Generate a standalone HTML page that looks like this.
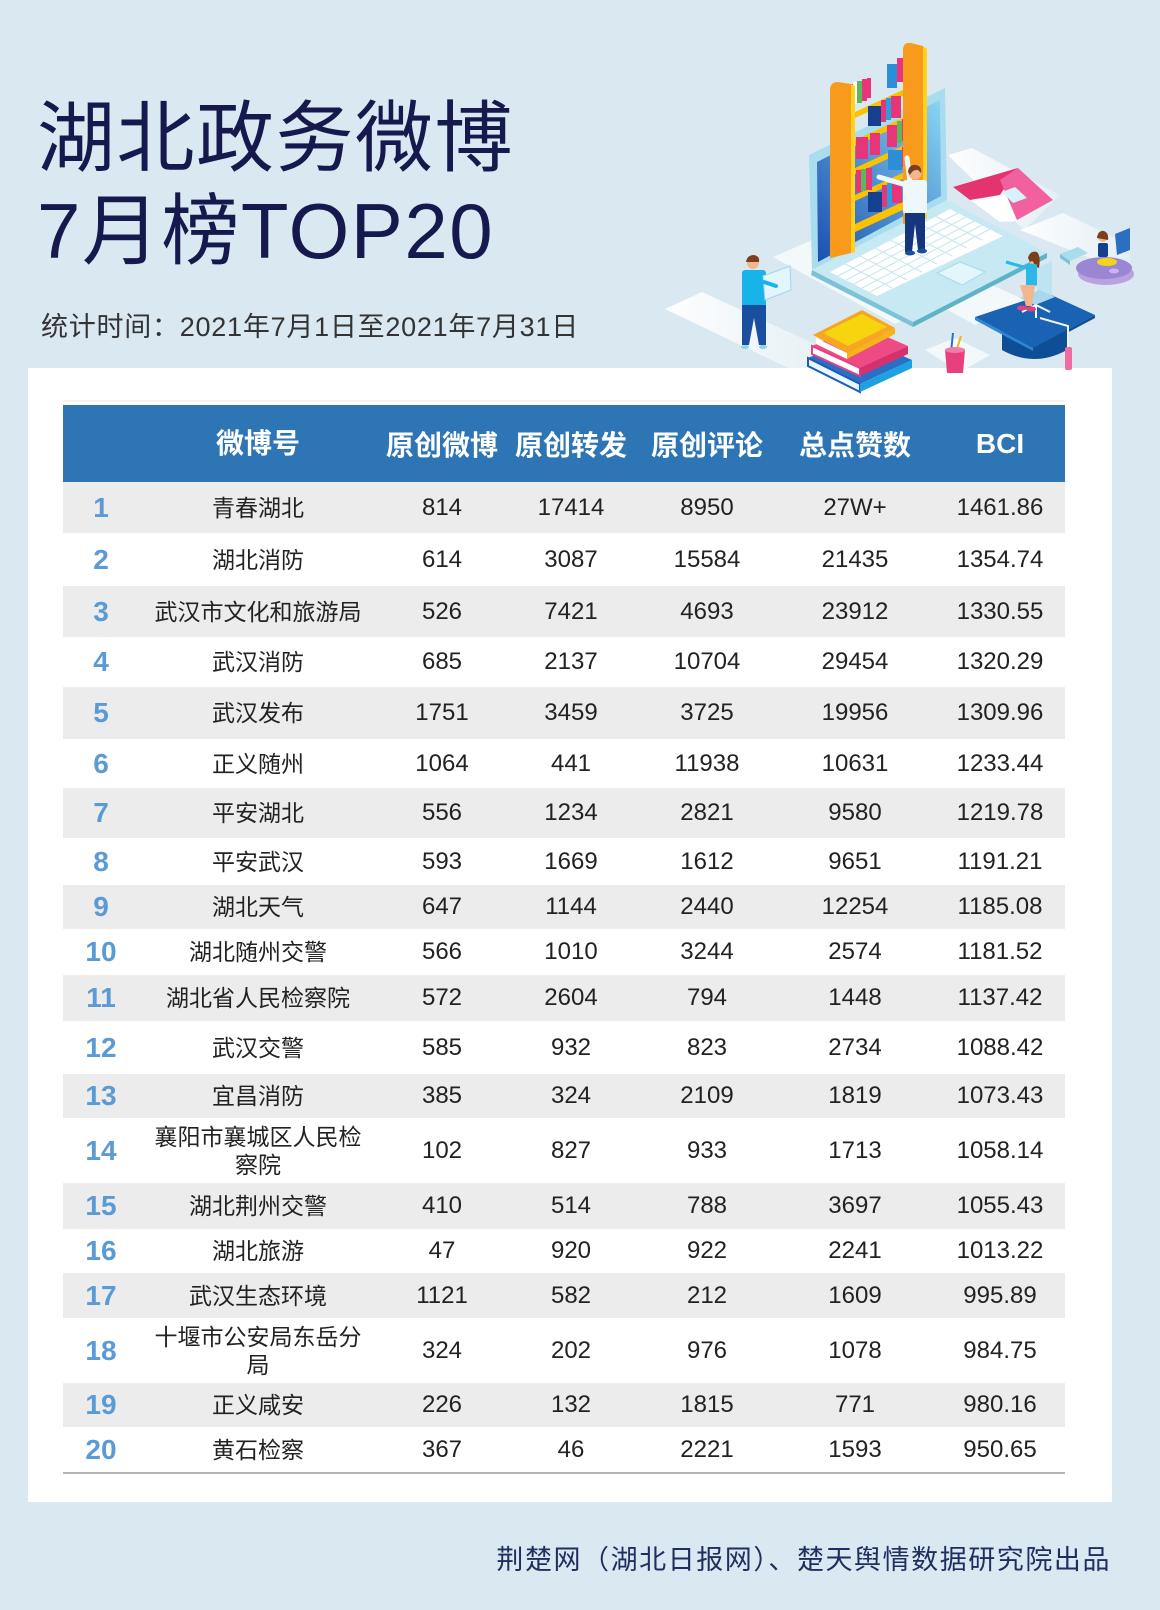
<!DOCTYPE html>
<html><head><meta charset="utf-8">
<style>
*{margin:0;padding:0;box-sizing:border-box}
html,body{width:1160px;height:1610px;overflow:hidden}
body{background:#dae9f1;position:relative;font-family:"Liberation Sans","Noto Sans CJK SC",sans-serif}
.t{position:absolute;white-space:nowrap}
#title1,#title2{left:37px;font-size:78px;line-height:78px;color:#15194d;letter-spacing:1.5px}
#title1{top:99px}
#title2{top:192px}
#sub{left:41px;top:309px;font-size:27px;line-height:36px;color:#333;letter-spacing:0.75px}
#foot{right:49px;top:1542px;font-size:27px;line-height:36px;color:#1f2d5f;letter-spacing:1.55px}
#card{position:absolute;left:28px;top:368px;width:1084px;height:1134px;background:#fff}
.row{position:absolute;left:63px;width:1002px}
.row.g{background:#ececec}
.row.h{background:#2e75b6;color:#fff;font-weight:bold;font-size:28px}
.c{position:absolute;top:0;height:100%;display:flex;align-items:center;justify-content:center;text-align:center;white-space:nowrap}
.rk{left:0;width:76px;color:#5b9bd5;font-weight:bold;font-size:28px}
.nm{left:76px;width:238px;font-size:23px;color:#222;line-height:28px}
.n{font-size:24px;color:#222}
.n1{left:313px;width:132px}
.n2{left:442px;width:132px}
.n3{left:574px;width:140px}
.n4{left:714px;width:156px}
.n5{left:869px;width:136px}
.h .c{color:#fff;font-size:28px}
#ill{position:absolute;left:0;top:0}
</style></head><body>
<div class="t" id="title1">湖北政务微博</div>
<div class="t" id="title2">7月榜TOP20</div>
<div class="t" id="sub">统计时间：2021年7月1日至2021年7月31日</div>

<div id="card"></div>
<div style="position:absolute;left:63px;top:400px;width:1002px;height:2px;background:#f1f3f4"></div>

<div class="row h" style="top:405px;height:77px">
<div class="c nm" style="color:#fff;font-size:28px">微博号</div>
<div class="c n1">原创微博</div><div class="c n2">原创转发</div><div class="c n3">原创评论</div><div class="c n4">总点赞数</div><div class="c n5">BCI</div>
</div>

<div class="row g" style="top:482px;height:51px"><div class="c rk">1</div><div class="c nm">青春湖北</div><div class="c n n1">814</div><div class="c n n2">17414</div><div class="c n n3">8950</div><div class="c n n4">27W+</div><div class="c n n5">1461.86</div></div>
<div class="row" style="top:533px;height:53px"><div class="c rk">2</div><div class="c nm">湖北消防</div><div class="c n n1">614</div><div class="c n n2">3087</div><div class="c n n3">15584</div><div class="c n n4">21435</div><div class="c n n5">1354.74</div></div>
<div class="row g" style="top:586px;height:51px"><div class="c rk">3</div><div class="c nm">武汉市文化和旅游局</div><div class="c n n1">526</div><div class="c n n2">7421</div><div class="c n n3">4693</div><div class="c n n4">23912</div><div class="c n n5">1330.55</div></div>
<div class="row" style="top:637px;height:50px"><div class="c rk">4</div><div class="c nm">武汉消防</div><div class="c n n1">685</div><div class="c n n2">2137</div><div class="c n n3">10704</div><div class="c n n4">29454</div><div class="c n n5">1320.29</div></div>
<div class="row g" style="top:687px;height:52px"><div class="c rk">5</div><div class="c nm">武汉发布</div><div class="c n n1">1751</div><div class="c n n2">3459</div><div class="c n n3">3725</div><div class="c n n4">19956</div><div class="c n n5">1309.96</div></div>
<div class="row" style="top:739px;height:49px"><div class="c rk">6</div><div class="c nm">正义随州</div><div class="c n n1">1064</div><div class="c n n2">441</div><div class="c n n3">11938</div><div class="c n n4">10631</div><div class="c n n5">1233.44</div></div>
<div class="row g" style="top:788px;height:50px"><div class="c rk">7</div><div class="c nm">平安湖北</div><div class="c n n1">556</div><div class="c n n2">1234</div><div class="c n n3">2821</div><div class="c n n4">9580</div><div class="c n n5">1219.78</div></div>
<div class="row" style="top:838px;height:47px"><div class="c rk">8</div><div class="c nm">平安武汉</div><div class="c n n1">593</div><div class="c n n2">1669</div><div class="c n n3">1612</div><div class="c n n4">9651</div><div class="c n n5">1191.21</div></div>
<div class="row g" style="top:885px;height:44px"><div class="c rk">9</div><div class="c nm">湖北天气</div><div class="c n n1">647</div><div class="c n n2">1144</div><div class="c n n3">2440</div><div class="c n n4">12254</div><div class="c n n5">1185.08</div></div>
<div class="row" style="top:929px;height:46px"><div class="c rk">10</div><div class="c nm">湖北随州交警</div><div class="c n n1">566</div><div class="c n n2">1010</div><div class="c n n3">3244</div><div class="c n n4">2574</div><div class="c n n5">1181.52</div></div>
<div class="row g" style="top:975px;height:46px"><div class="c rk">11</div><div class="c nm">湖北省人民检察院</div><div class="c n n1">572</div><div class="c n n2">2604</div><div class="c n n3">794</div><div class="c n n4">1448</div><div class="c n n5">1137.42</div></div>
<div class="row" style="top:1021px;height:53px"><div class="c rk">12</div><div class="c nm">武汉交警</div><div class="c n n1">585</div><div class="c n n2">932</div><div class="c n n3">823</div><div class="c n n4">2734</div><div class="c n n5">1088.42</div></div>
<div class="row g" style="top:1074px;height:44px"><div class="c rk">13</div><div class="c nm">宜昌消防</div><div class="c n n1">385</div><div class="c n n2">324</div><div class="c n n3">2109</div><div class="c n n4">1819</div><div class="c n n5">1073.43</div></div>
<div class="row" style="top:1118px;height:65px"><div class="c rk">14</div><div class="c nm">襄阳市襄城区人民检<br>察院</div><div class="c n n1">102</div><div class="c n n2">827</div><div class="c n n3">933</div><div class="c n n4">1713</div><div class="c n n5">1058.14</div></div>
<div class="row g" style="top:1183px;height:46px"><div class="c rk">15</div><div class="c nm">湖北荆州交警</div><div class="c n n1">410</div><div class="c n n2">514</div><div class="c n n3">788</div><div class="c n n4">3697</div><div class="c n n5">1055.43</div></div>
<div class="row" style="top:1229px;height:44px"><div class="c rk">16</div><div class="c nm">湖北旅游</div><div class="c n n1">47</div><div class="c n n2">920</div><div class="c n n3">922</div><div class="c n n4">2241</div><div class="c n n5">1013.22</div></div>
<div class="row g" style="top:1273px;height:45px"><div class="c rk">17</div><div class="c nm">武汉生态环境</div><div class="c n n1">1121</div><div class="c n n2">582</div><div class="c n n3">212</div><div class="c n n4">1609</div><div class="c n n5">995.89</div></div>
<div class="row" style="top:1318px;height:65px"><div class="c rk">18</div><div class="c nm">十堰市公安局东岳分<br>局</div><div class="c n n1">324</div><div class="c n n2">202</div><div class="c n n3">976</div><div class="c n n4">1078</div><div class="c n n5">984.75</div></div>
<div class="row g" style="top:1383px;height:44px"><div class="c rk">19</div><div class="c nm">正义咸安</div><div class="c n n1">226</div><div class="c n n2">132</div><div class="c n n3">1815</div><div class="c n n4">771</div><div class="c n n5">980.16</div></div>
<div class="row" style="top:1427px;height:45px"><div class="c rk">20</div><div class="c nm">黄石检察</div><div class="c n n1">367</div><div class="c n n2">46</div><div class="c n n3">2221</div><div class="c n n4">1593</div><div class="c n n5">950.65</div></div>
<div style="position:absolute;left:63px;top:1472px;width:1002px;height:2px;background:#b4b4b4"></div>

<div class="t" id="foot">荆楚网（湖北日报网）、楚天舆情数据研究院出品</div>

<svg id="ill" width="1160" height="420" viewBox="0 0 1160 420">
<defs>
<linearGradient id="scr" x1="0" y1="1" x2="1" y2="0"><stop offset="0" stop-color="#1a4fb0"/><stop offset="1" stop-color="#8ad6f4"/></linearGradient>
<linearGradient id="wf" x1="0" y1="0" x2="1" y2="0"><stop offset="0" stop-color="#fff" stop-opacity="0.95"/><stop offset="1" stop-color="#fff" stop-opacity="0.25"/></linearGradient>
</defs>
<polygon points="665,309 702,292 845,358 805,376" fill="url(#wf)"/>
<polygon points="773,257 817,238 940,300 895,324" fill="#f3f8fb"/>
<polygon points="948,155 972,148 1060,195 1024,230" fill="url(#wf)"/>
<polygon points="1020,230 1063,213 1130,245 1130,274" fill="url(#wf)"/>
<polygon points="930,300 985,282 1025,300 975,325" fill="#f3f8fb"/>
<polygon points="925,350 955,338 990,355 960,372" fill="#f3f8fb"/>
<polygon points="809,155 945,88 947,200 812,270" fill="#a8dcef"/>
<polygon points="817,162 940,100 941,196 818,262" fill="url(#scr)"/>
<polygon points="812,270 947,200 1047,253 913,322" fill="#c6e9f4"/>
<polygon points="812,270 913,322 913,327 811,275" fill="#7ec2d6"/>
<polygon points="913,322 1047,253 1047,258 913,327" fill="#5fb3c7"/>
<polygon points="830,272 950,209 1003,236 877,296" fill="#fff"/>
<g stroke="#c5e5f0" stroke-width="1">
<line x1="838" y1="276" x2="958" y2="213"/><line x1="846" y1="280" x2="966" y2="217"/><line x1="854" y1="284" x2="974" y2="221"/><line x1="862" y1="288" x2="982" y2="225"/><line x1="870" y1="292" x2="990" y2="229"/>
<line x1="845" y1="264" x2="892" y2="288"/><line x1="860" y1="256" x2="907" y2="280"/><line x1="875" y1="248" x2="922" y2="272"/><line x1="890" y1="240" x2="937" y2="264"/><line x1="905" y1="232" x2="952" y2="256"/><line x1="920" y1="224" x2="967" y2="248"/><line x1="935" y1="216" x2="982" y2="240"/>
</g>
<polygon points="937,273 960,262 985,272 962,285" fill="#e2f6fb" stroke="#a9d9ea"/>
<g>
<polygon points="855,112 920,82 920,88 855,118" fill="#fcc200"/>
<polygon points="855,140 920,110 920,116 855,146" fill="#fcc200"/>
<polygon points="855,168 920,138 920,144 855,174" fill="#fcc200"/>
<polygon points="855,195 920,165 920,171 855,201" fill="#fcc200"/>
<polygon points="855,224 920,194 920,202 855,232" fill="#fcc200"/>
<g>
<rect x="848" y="84" width="5" height="22" fill="#e8357a"/><rect x="853" y="82" width="4" height="22" fill="#fff"/><rect x="857" y="81" width="5" height="22" fill="#5cb85c"/><rect x="862" y="79" width="5" height="22" fill="#e8357a"/><rect x="867" y="78" width="4" height="20" fill="#e8357a"/>
<rect x="887" y="64" width="10" height="24" fill="#2a8fd8"/><rect x="897" y="58" width="9" height="24" fill="#e8357a"/>
<rect x="868" y="106" width="13" height="20" fill="#163f8f"/><rect x="881" y="100" width="5" height="22" fill="#e8357a"/><rect x="886" y="98" width="5" height="22" fill="#2a9ee0"/><rect x="891" y="96" width="10" height="22" fill="#e8357a"/>
<rect x="856" y="137" width="12" height="22" fill="#e8357a"/><rect x="870" y="133" width="10" height="22" fill="#e8357a"/><rect x="887" y="125" width="10" height="22" fill="#e8357a"/><rect x="897" y="121" width="5" height="22" fill="#5cb85c"/><rect x="902" y="119" width="7" height="22" fill="#e8357a"/>
<rect x="888" y="150" width="14" height="20" fill="#2a8fd8"/><rect x="902" y="147" width="8" height="20" fill="#e8357a"/>
<rect x="856" y="170" width="5" height="22" fill="#e8357a"/><rect x="861" y="169" width="5" height="22" fill="#5cb85c"/><rect x="866" y="168" width="6" height="22" fill="#e8357a"/>
<rect x="868" y="192" width="14" height="20" fill="#163f8f"/><rect x="882" y="185" width="5" height="22" fill="#e8357a"/><rect x="887" y="183" width="5" height="22" fill="#2a9ee0"/><rect x="892" y="181" width="10" height="22" fill="#e8357a"/>
</g>
<path d="M830,90 Q830,82 838,82 L851,84 L851,253 L830,258 Z" fill="#f89b1c"/>
<polygon points="851,84 855,86 855,252 851,253" fill="#ffd21f"/>
<path d="M903,50 Q903,42 911,43 L923,46 L923,220 L903,224 Z" fill="#f89b1c"/>
<polygon points="923,46 927,49 927,218 923,220" fill="#ffd21f"/>
</g>
<line x1="906" y1="185" x2="879" y2="177" stroke="#eef7fb" stroke-width="5" stroke-linecap="round"/>
<line x1="910" y1="182" x2="907" y2="158" stroke="#eef7fb" stroke-width="5" stroke-linecap="round"/>
<rect x="903" y="180" width="24" height="34" rx="3" fill="#eef7fb"/>
<polygon points="905,213 925,213 925,250 918,250 915,224 912,252 905,252" fill="#16357f"/>
<ellipse cx="910" cy="253" rx="5" ry="2.5" fill="#1a4f9f"/><ellipse cx="922" cy="251" rx="5" ry="2.5" fill="#1a4f9f"/>
<circle cx="915" cy="173" r="6.5" fill="#f2b58f"/>
<path d="M908,172 Q909,164 916,165 Q922,166 921,173 L918,170 Q913,169 910,175 Z" fill="#7b3f1d"/>
<polygon points="953,187 1000,180 1017,221 1000,222" fill="#fff"/>
<polygon points="953,187 1018,168 1000,195 970,200" fill="#e3346f"/>
<polygon points="1000,180 1018,168 1053,200 1017,220" fill="#f2609f"/>
<polygon points="1002,192 1015,187 1027,198 1013,203" fill="#d7f2fb"/>
<circle cx="753" cy="263" r="6" fill="#f2b58f"/>
<path d="M746,262 Q747,255 754,255 Q760,256 759,262 Z" fill="#7b3f1d"/>
<rect x="742" y="270" width="24" height="37" rx="3" fill="#18b4e9"/>
<polygon points="742,305 766,305 766,345 759,345 754,318 749,345 742,345" fill="#1a4f9f"/>
<ellipse cx="745" cy="347" rx="4" ry="2" fill="#8fd3ea"/><ellipse cx="763" cy="347" rx="4" ry="2" fill="#8fd3ea"/>
<polygon points="763,276 790,266 791,290 765,300" fill="#e2f6fc" stroke="#9fd6e8"/>
<line x1="764" y1="282" x2="776" y2="286" stroke="#18b4e9" stroke-width="4" stroke-linecap="round"/>
<polygon points="808,358 858,336 912,360 860,384" fill="#2a6fc7"/>
<polygon points="808,358 860,384 860,392 808,366" fill="#e8f7fc" stroke="#1e5bb5" stroke-width="2"/>
<polygon points="860,384 912,360 912,368 860,392" fill="#1ea1e0"/>
<polygon points="812,346 860,325 908,346 860,368" fill="#ee4b86"/>
<polygon points="812,346 860,368 860,376 812,354" fill="#fff" stroke="#e8407f" stroke-width="2"/>
<polygon points="860,368 908,346 908,354 860,376" fill="#d8306d"/>
<polygon points="813,335 862,310 895,328 847,353" fill="#f6a623"/>
<polygon points="823,333 862,314 887,327 848,346" fill="#f6d50f"/>
<polygon points="816,338 847,353 847,359 816,344" fill="#fff"/>
<polygon points="847,353 895,328 895,334 847,359" fill="#f5b41a"/>
<line x1="951" y1="352" x2="953" y2="333" stroke="#2a6fc7" stroke-width="2"/>
<line x1="956" y1="352" x2="961" y2="336" stroke="#f6b51a" stroke-width="2"/>
<polygon points="945,350 965,350 963,373 947,373" fill="#e8407f"/>
<ellipse cx="955" cy="350" rx="10" ry="3" fill="#f27aa8"/>
<path d="M1002,330 L1067,330 L1067,350 Q1034,368 1002,350 Z" fill="#0e4e96"/>
<polygon points="975,317 1047,293 1095,315 1033,348" fill="#1a63b4"/>
<polygon points="975,317 1033,348 1033,351 975,320" fill="#2e86d4"/>
<polygon points="1033,348 1095,315 1095,318 1033,351" fill="#0f4f94"/>
<polyline points="1040,318 1068,326 1068,350" fill="none" stroke="#f2f2f2" stroke-width="2"/>
<rect x="1065" y="347" width="7" height="23" rx="2" fill="#f06ba0"/>
<polygon points="1037,268 1052,261 1052,296 1037,303" fill="#bfe4f1"/>
<polygon points="1020,298 1040,290 1055,297 1035,305" fill="#a8d8ea"/>
<g stroke="#fff" stroke-width="2"><line x1="1036" y1="305" x2="1022" y2="312"/><line x1="1036" y1="305" x2="1050" y2="312"/><line x1="1036" y1="305" x2="1036" y2="318"/></g>
<circle cx="1034" cy="259" r="5.5" fill="#f2b58f"/>
<path d="M1028,258 Q1030,250 1037,252 Q1041,256 1039,268 L1034,266 Q1034,259 1030,262 Z" fill="#7b3f1d"/>
<rect x="1026" y="264" width="11" height="22" rx="2" fill="#2bb8e8"/>
<line x1="1027" y1="268" x2="1006" y2="262" stroke="#2bb8e8" stroke-width="3"/>
<polygon points="1020,285 1035,285 1032,306 1026,306" fill="#f2b58f"/>
<ellipse cx="1022" cy="308" rx="5" ry="2.5" fill="#e8407f"/><ellipse cx="1031" cy="309" rx="5" ry="2.5" fill="#e8407f"/>
<polygon points="1060,254 1078,247 1088,253 1070,261" fill="#a8dde9"/>
<polygon points="1060,254 1070,261 1070,265 1060,258" fill="#7cc3d6"/>
<ellipse cx="1106" cy="274" rx="28" ry="11" fill="#b9a2e0"/>
<ellipse cx="1104" cy="268" rx="28" ry="11" fill="#9b86d4"/>
<ellipse cx="1114" cy="271" rx="5" ry="2.5" fill="#c9b5ea"/>
<circle cx="1103" cy="237" r="5" fill="#f2b58f"/>
<path d="M1097,238 Q1098,230 1104,231 Q1109,233 1108,240 Z" fill="#7b3f1d"/>
<rect x="1098" y="243" width="10" height="14" rx="2" fill="#163f8f"/>
<ellipse cx="1107" cy="262" rx="10" ry="4" fill="#f7d21a"/>
<polygon points="1115,234 1130,228 1130,250 1117,255" fill="#2a6fc0"/>
</svg>
</body></html>
